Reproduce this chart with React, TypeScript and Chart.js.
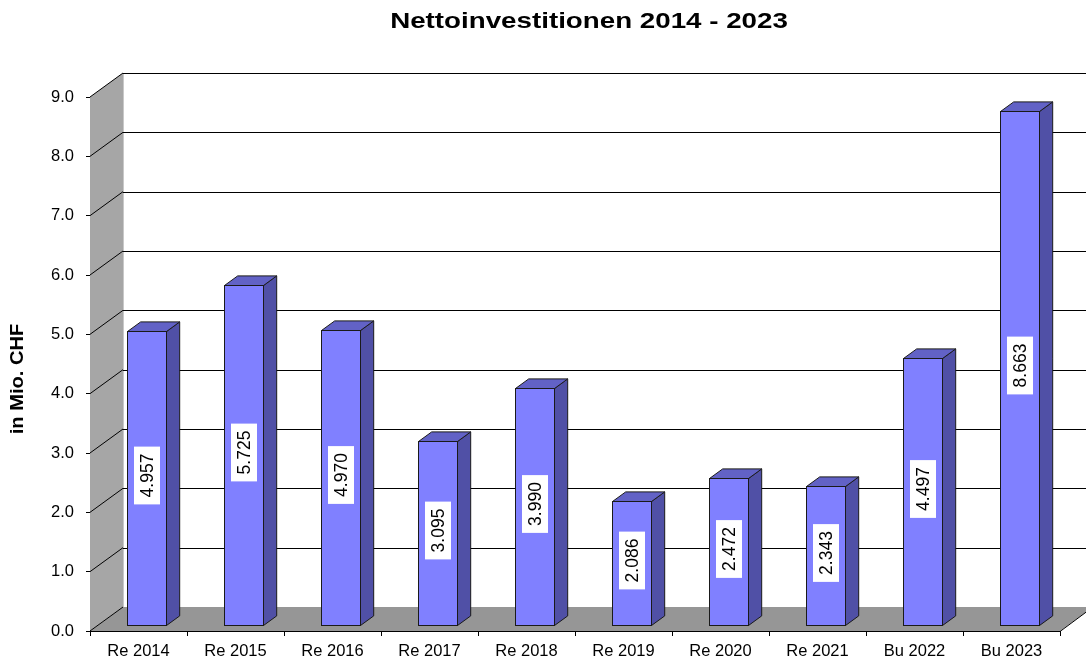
import React, { useEffect, useRef } from "react";
import { Chart, registerables } from "chart.js";

Chart.register(...registerables);

const categories = ["Re 2014", "Re 2015", "Re 2016", "Re 2017", "Re 2018", "Re 2019", "Re 2020", "Re 2021", "Bu 2022", "Bu 2023"];
const values = [4.957, 5.725, 4.97, 3.095, 3.99, 2.086, 2.472, 2.343, 4.497, 8.663];
const valueLabels = ["4.957", "5.725", "4.970", "3.095", "3.990", "2.086", "2.472", "2.343", "4.497", "8.663"];
const yMin = 0;
const yMax = 9;
const yStep = 1;
const titleText = "Nettoinvestitionen 2014 - 2023";
const yAxisTitle = "in Mio. CHF";

const FONT = "'Liberation Sans', Arial, sans-serif";
const DX = 33;
const DY = 24;
const BAR_FRONT = 0.25;
const BAR_BACK = 0.65;

const px = (v: number) => Math.round(v) + 0.5;

const threeD = {
  id: "threeD",
  beforeDatasetsDraw(chart: any) {
    const { ctx, chartArea, scales } = chart;
    const { left, right, top, bottom } = chartArea;
    const y = scales.y;
    ctx.save();
    // left wall
    ctx.fillStyle = "#a6a6a6";
    ctx.beginPath();
    ctx.moveTo(left, bottom);
    ctx.lineTo(left, top);
    ctx.lineTo(left + DX, top - DY);
    ctx.lineTo(left + DX, bottom - DY);
    ctx.closePath();
    ctx.fill();
    // floor
    ctx.fillStyle = "#969696";
    ctx.beginPath();
    ctx.moveTo(left, bottom);
    ctx.lineTo(right, bottom);
    ctx.lineTo(right + DX, bottom - DY);
    ctx.lineTo(left + DX, bottom - DY);
    ctx.closePath();
    ctx.fill();
    // back edge of left wall
    ctx.strokeStyle = "#c8c8c8";
    ctx.lineWidth = 1;
    ctx.beginPath();
    ctx.moveTo(px(left + DX), top - DY);
    ctx.lineTo(px(left + DX), bottom - DY);
    ctx.stroke();
    // gridlines
    ctx.strokeStyle = "#000";
    ctx.lineWidth = 1;
    for (let v = yMin; v <= yMax; v += yStep) {
      const yy = y.getPixelForValue(v);
      ctx.beginPath();
      ctx.moveTo(left, yy);
      ctx.lineTo(left + DX, yy - DY);
      ctx.stroke();
      if (v > yMin) {
        ctx.beginPath();
        ctx.moveTo(left + DX, px(yy - DY));
        ctx.lineTo(right + DX + 10, px(yy - DY));
        ctx.stroke();
      }
    }
    // floor edges
    ctx.beginPath();
    ctx.moveTo(left, px(bottom));
    ctx.lineTo(right, px(bottom));
    ctx.lineTo(right + DX, bottom - DY);
    ctx.stroke();
    ctx.restore();
  },
  afterDatasetsDraw(chart: any) {
    const { ctx } = chart;
    const meta = chart.getDatasetMeta(0);
    ctx.save();
    ctx.lineWidth = 1;
    ctx.strokeStyle = "#1a1a1a";
    ctx.lineJoin = "miter";
    const ddx = (BAR_BACK - BAR_FRONT) * DX;
    const ddy = (BAR_BACK - BAR_FRONT) * DY;
    meta.data.forEach((el: any, i: number) => {
      const { x, y, base, width } = el.getProps(["x", "y", "base", "width"], true);
      const x0 = Math.round(x - width / 2 + BAR_FRONT * DX) + 0.5;
      const x1 = Math.round(x + width / 2 + BAR_FRONT * DX) + 0.5;
      const yt = Math.round(y - BAR_FRONT * DY) + 0.5;
      const yb = Math.round(base - BAR_FRONT * DY) + 0.5;
      // side
      ctx.fillStyle = "#5050a6";
      ctx.beginPath();
      ctx.moveTo(x1, yb);
      ctx.lineTo(x1, yt);
      ctx.lineTo(x1 + ddx, yt - ddy);
      ctx.lineTo(x1 + ddx, yb - ddy);
      ctx.closePath();
      ctx.fill();
      ctx.stroke();
      // top
      ctx.fillStyle = "#6262c6";
      ctx.beginPath();
      ctx.moveTo(x0, yt);
      ctx.lineTo(x1, yt);
      ctx.lineTo(x1 + ddx, yt - ddy);
      ctx.lineTo(x0 + ddx, yt - ddy);
      ctx.closePath();
      ctx.fill();
      ctx.stroke();
      // front
      ctx.fillStyle = "#8080ff";
      ctx.fillRect(x0, yt, x1 - x0, yb - yt);
      ctx.strokeRect(x0, yt, x1 - x0, yb - yt);

      // label
      const cx = (x0 + x1) / 2;
      const cy = (yt + yb) / 2 - 3;
      const txt = valueLabels[i];
      ctx.save();
      ctx.translate(cx, cy);
      ctx.rotate(-Math.PI / 2);
      ctx.font = `17.5px ${FONT}`;
      const w = ctx.measureText(txt).width;
      const bw = w + 14;
      const bh = 26;
      ctx.fillStyle = "#ffffff";
      ctx.fillRect(-bw / 2, -bh / 2, bw, bh);
      ctx.fillStyle = "#000";
      ctx.textAlign = "center";
      ctx.textBaseline = "middle";
      ctx.fillText(txt, 0, 1);
      ctx.restore();
    });
    ctx.restore();
  },
  afterDraw(chart: any) {
    const { ctx } = chart;
    ctx.save();
    ctx.fillStyle = "#000";
    // title
    ctx.font = `bold 21.5px ${FONT}`;
    ctx.textAlign = "center";
    ctx.textBaseline = "alphabetic";
    ctx.save();
    ctx.translate(589, 28);
    ctx.scale(1.29, 1);
    ctx.fillText(titleText, 0, 0);
    ctx.restore();
    // y-axis title
    ctx.save();
    ctx.translate(18.5, 379);
    ctx.rotate(-Math.PI / 2);
    ctx.scale(1.15, 1);
    ctx.font = `bold 17.5px ${FONT}`;
    ctx.textBaseline = "middle";
    ctx.fillText(yAxisTitle, 0, 0);
    ctx.restore();
    ctx.restore();
  },
};

export default function App() {
  const ref = useRef<HTMLCanvasElement | null>(null);
  useEffect(() => {
    if (!ref.current) return;
    const chart = new Chart(ref.current, {
      type: "bar",
      data: {
        labels: categories,
        datasets: [
          {
            label: titleText,
            data: values,
            backgroundColor: "rgba(0,0,0,0)",
            borderWidth: 0,
            barPercentage: 0.4,
            categoryPercentage: 1,
          },
        ],
      },
      options: {
        animation: false,
        responsive: true,
        maintainAspectRatio: false,
        layout: { padding: { left: 10, top: 97, right: 26, bottom: 0 } },
        plugins: {
          legend: { display: false },
          title: { display: false },
          tooltip: { enabled: false },
        },
        scales: {
          x: {
            type: "category",
            offset: true,
            grid: { offset: true, drawOnChartArea: false, drawTicks: true, tickLength: 5, color: "#000", tickColor: "#000" },
            border: { display: true, color: "#000" },
            ticks: { font: { family: FONT, size: 16.5 }, color: "#000", padding: 6, maxRotation: 0, autoSkip: false },
            afterFit: (s: any) => {
              s.height = 30;
            },
          },
          y: {
            min: yMin,
            max: yMax,
            ticks: {
              stepSize: yStep,
              callback: (v: any) => Number(v).toFixed(1),
              font: { family: FONT, size: 16.5 },
              color: "#000",
              padding: 12,
            },
            grid: { drawOnChartArea: false, drawTicks: true, tickLength: 4, color: "#000", tickColor: "#000" },
            border: { display: true, color: "#000" },
            afterFit: (s: any) => {
              s.width = 80;
            },
          },
        },
      },
      plugins: [threeD],
    });
    return () => chart.destroy();
  }, []);
  return (
    <div style={{ position: "fixed", left: 0, top: 0, width: 1086, height: 661, background: "#fff" }}>
      <canvas ref={ref} />
    </div>
  );
}
